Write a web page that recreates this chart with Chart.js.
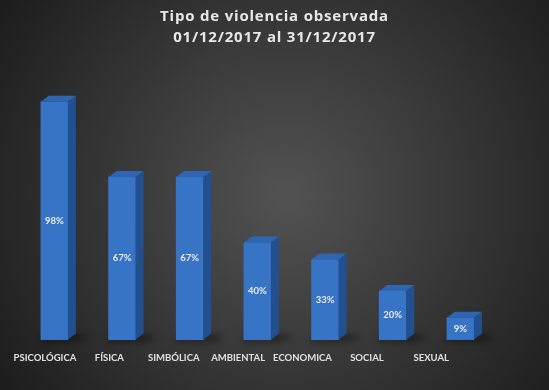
<!DOCTYPE html>
<html>
<head>
<meta charset="utf-8">
<script src="https://cdn.jsdelivr.net/npm/chart.js"></script>
<style>
  html, body { margin: 0; padding: 0; background: #2b2b2b; }
  #wrap { width: 549px; height: 390px; }
</style>
</head>
<body>
<div id="wrap"><canvas id="mainChart"></canvas></div>
<script>
const categories = ['PSICOLÓGICA', 'FÍSICA', 'SIMBÓLICA', 'AMBIENTAL', 'ECONOMICA', 'SOCIAL', 'SEXUAL'];
const percentages = [98, 67, 67, 40, 33, 20, 9];
const titleLines = ['Tipo de violencia observada', '01/12/2017 al 31/12/2017'];

const FONT = 'Lato, "Open Sans", sans-serif';

// dark vignette behind everything, title centred on the whole canvas
const background = {
    id: 'background',
    beforeDraw(chart) {
        const { ctx, width, height } = chart;
        const g = ctx.createRadialGradient(width * 0.52, height * 0.5, 10, width * 0.52, height * 0.5, width * 0.62);
        g.addColorStop(0, '#515151');
        g.addColorStop(1, '#1d1d1d');
        ctx.save();
        ctx.fillStyle = g;
        ctx.fillRect(0, 0, width, height);
        ctx.fillStyle = '#e8e8e8';
        ctx.font = 'bold 15px "Open Sans", sans-serif';
        ctx.letterSpacing = '0.8px';
        ctx.textAlign = 'center';
        ctx.textBaseline = 'middle';
        titleLines.forEach((t, i) => ctx.fillText(t, width / 2, 17 + i * 21));
        ctx.restore();
    }
};

// fake 3d: shadow, side and top faces, plus value text
const bars3d = {
    id: 'bars3d',
    beforeDatasetsDraw(chart) {
        const ctx = chart.ctx;
        const meta = chart.getDatasetMeta(0);
        ctx.save();
        meta.data.forEach(bar => {
            const r = bar.x + bar.width / 2;
            const l = bar.x - bar.width / 2;
            ctx.fillStyle = 'rgba(0,0,0,0.35)';
            ctx.filter = 'blur(3px)';
            ctx.beginPath();
            ctx.moveTo(l, bar.base - 2);
            ctx.lineTo(r + 8, bar.base - 6);
            ctx.lineTo(r + 22, bar.base - 3);
            ctx.lineTo(r + 10, bar.base + 3);
            ctx.lineTo(l - 2, bar.base + 3);
            ctx.closePath();
            ctx.fill();
        });
        ctx.restore();
    },
    afterDatasetsDraw(chart) {
        const ctx = chart.ctx;
        const meta = chart.getDatasetMeta(0);
        const dx = 8, dy = 6;
        ctx.save();
        meta.data.forEach((bar, i) => {
            const l = bar.x - bar.width / 2;
            const r = bar.x + bar.width / 2;
            const top = bar.y, base = bar.base;
            // side
            ctx.fillStyle = '#22508f';
            ctx.beginPath();
            ctx.moveTo(r, top);
            ctx.lineTo(r + dx, top - dy);
            ctx.lineTo(r + dx, base - dy);
            ctx.lineTo(r, base);
            ctx.closePath();
            ctx.fill();
            // top
            ctx.fillStyle = '#2f66b3';
            ctx.beginPath();
            ctx.moveTo(l, top);
            ctx.lineTo(l + dx, top - dy);
            ctx.lineTo(r + dx, top - dy);
            ctx.lineTo(r, top);
            ctx.closePath();
            ctx.fill();
            // value
            ctx.fillStyle = '#eaeaea';
            ctx.font = 'bold 9.5px ' + FONT;
            ctx.textAlign = 'center';
            ctx.textBaseline = 'middle';
            ctx.fillText(percentages[i] + '%', bar.x, (top + base) / 2);
        });
        ctx.restore();
    }
};

new Chart(document.getElementById('mainChart'), {
    type: 'bar',
    data: {
        labels: categories,
        datasets: [{
            data: percentages.map((v, i) => ({ x: i, y: v })),
            xAxisID: 'xb',
            backgroundColor: '#3874c6',
            borderWidth: 0,
            barThickness: 27,
            clip: false
        }]
    },
    options: {
        responsive: true,
        maintainAspectRatio: false,
        animation: false,
        layout: { padding: { left: 8.5, right: 85.5, top: 97, bottom: 13 } },
        plugins: {
            legend: { display: false },
            tooltip: { enabled: false },
            title: { display: false }
        },
        scales: {
            x: {
                type: 'category',
                grid: { display: false, drawTicks: false },
                border: { display: false },
                ticks: {
                    color: '#e0e0e0',
                    font: { family: FONT, size: 9.5, weight: 'bold' },
                    padding: 13,
                    autoSkip: false,
                    maxRotation: 0
                }
            },
            xb: {
                type: 'linear',
                display: false,
                offset: false,
                min: -0.615,
                max: 6.046
            },
            y: {
                display: false,
                min: 0,
                max: 100
            }
        }
    },
    plugins: [background, bars3d]
});
</script>
</body>
</html>
